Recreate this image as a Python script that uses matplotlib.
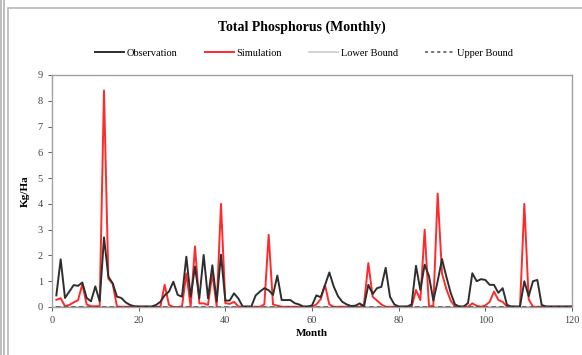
#!/usr/bin/env python3
"""
Total Phosphorus (Monthly) -- observation vs simulation, 120 months
"""
import numpy as np
import matplotlib.pyplot as plt
from matplotlib.lines import Line2D
from matplotlib.patches import Rectangle

plt.rcParams['font.family'] = ['Liberation Serif', 'DejaVu Serif']

months = np.arange(1, 121)

observation = [
    0.45, 1.85, 0.35, 0.60, 0.85, 0.82, 0.95, 0.35, 0.22, 0.80,
    0.22, 2.70, 1.18, 0.92, 0.40, 0.35, 0.18, 0.08, 0.03, 0.02,
    0.02, 0.02, 0.02, 0.08, 0.20, 0.45, 0.60, 0.98, 0.47, 0.40,
    1.95, 0.40, 1.57, 0.34, 2.02, 0.34, 1.62, 0.22, 2.03, 0.25,
    0.25, 0.53, 0.33, 0.02, 0.02, 0.02, 0.45, 0.60, 0.73, 0.65,
    0.47, 1.22, 0.27, 0.27, 0.27, 0.15, 0.10, 0.02, 0.02, 0.06,
    0.45, 0.38, 0.85, 1.34, 0.80, 0.42, 0.20, 0.10, 0.04, 0.05,
    0.14, 0.02, 0.86, 0.50, 0.73, 0.78, 1.52, 0.40, 0.10, 0.02,
    0.02, 0.02, 0.10, 1.60, 0.66, 1.64, 1.20, 0.25, 1.00, 1.86,
    1.18, 0.55, 0.10, 0.02, 0.02, 0.15, 1.31, 1.00, 1.08, 1.05,
    0.86, 0.86, 0.55, 0.73, 0.08, 0.02, 0.02, 0.02, 1.00, 0.42,
    1.00, 1.05, 0.08, 0.02, 0.02, 0.02, 0.02, 0.02, 0.02, 0.02,
]

simulation = [
    0.28, 0.34, 0.03, 0.08, 0.18, 0.26, 0.88, 0.10, 0.03, 0.03,
    0.03, 8.40, 1.10, 0.90, 0.02, 0.01, 0.01, 0.01, 0.01, 0.01,
    0.01, 0.01, 0.01, 0.01, 0.01, 0.86, 0.08, 0.00, 0.00, 0.02,
    1.30, 0.02, 2.35, 0.14, 0.14, 0.08, 1.30, 0.02, 4.00, 0.15,
    0.12, 0.20, 0.02, 0.01, 0.01, 0.01, 0.01, 0.01, 0.10, 2.80,
    0.10, 0.05, 0.01, 0.01, 0.01, 0.01, 0.01, 0.01, 0.01, 0.01,
    0.10, 0.30, 0.85, 0.10, 0.01, 0.01, 0.01, 0.01, 0.01, 0.01,
    0.01, 0.10, 1.70, 0.40, 0.25, 0.10, 0.01, 0.01, 0.01, 0.01,
    0.01, 0.01, 0.01, 0.66, 0.27, 3.00, 0.02, 0.05, 4.40, 1.30,
    0.70, 0.25, 0.02, 0.01, 0.01, 0.01, 0.14, 0.05, 0.01, 0.06,
    0.20, 0.60, 0.27, 0.20, 0.02, 0.01, 0.01, 0.01, 4.00, 0.30,
    0.01, 0.01, 0.01, 0.01, 0.01, 0.01, 0.01, 0.01, 0.01, 0.01,
]

lower_bound = [0.0] * 120
upper_bound = [0.0] * 120

x_ticks = [0, 20, 40, 60, 80, 100, 120]
y_ticks = list(range(0, 10))

OBS_C, SIM_C, LB_C, UB_C = '#2e2e2e', '#ff2a2a', '#d0d0d0', '#505050'

W, H = 582, 355
fig = plt.figure(figsize=(W / 100, H / 100), dpi=100)

# outer chart frame (Excel-like)
for xp in (1, 4):
    fig.add_artist(Line2D([xp / W, xp / W], [0, 1], color='#b0b0b0', lw=1.2))
fig.add_artist(Rectangle((8 / W, -0.05), 1.2, 1 - 8 / H + 0.05,
                         fill=False, edgecolor='#b8b8b8', lw=1.2))

ax = fig.add_axes([52 / W, 1 - 307 / H, (572 - 52) / W, (307 - 75) / H])

ax.plot(months, lower_bound, color=LB_C, lw=1.3, zorder=2)
ax.plot(months, upper_bound, color=UB_C, lw=1.1, ls=(0, (3, 2)), zorder=5)
ax.plot(months, simulation, color=SIM_C, lw=1.4, zorder=3)
ax.plot(months, observation, color=OBS_C, lw=1.4, zorder=4)

ax.set_xlim(0, 120)
ax.set_ylim(0, 9)
ax.set_xticks(x_ticks)
ax.set_yticks(y_ticks)
ax.tick_params(labelsize=7.5, colors='#444444', length=3, width=0.6)
for s in ax.spines.values():
    s.set_color('#a0a0a0')
    s.set_linewidth(1.0)

ax.set_xlabel('Month', fontsize=8, fontweight='bold', labelpad=3)
ax.set_ylabel('Kg/Ha', fontsize=8, fontweight='bold', labelpad=6)

fig.text(302 / W, 1 - 27 / H, 'Total Phosphorus (Monthly)', ha='center', va='center',
         fontsize=10, fontweight='bold')

handles = [
    Line2D([], [], color=OBS_C, lw=1.4),
    Line2D([], [], color=SIM_C, lw=1.4),
    Line2D([], [], color=LB_C, lw=1.3),
    Line2D([], [], color=UB_C, lw=1.1, ls=(0, (2, 2))),
]
labels = ['Observation', 'Simulation', 'Lower Bound', 'Upper Bound']
fig.legend(handles, labels, loc='center', bbox_to_anchor=(304 / W, 1 - 53 / H),
           ncol=4, frameon=False, fontsize=7.5, handlelength=2.8, handletextpad=0.25,
           columnspacing=2.6)

plt.savefig('out.png', dpi=100)
